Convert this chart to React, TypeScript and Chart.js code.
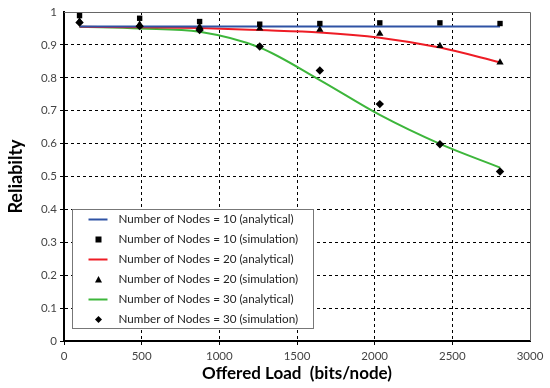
import React, { useEffect, useRef } from 'react';
import { Chart, registerables } from 'chart.js';

Chart.register(...registerables);

const offeredLoad = [100, 487, 873, 1260, 1647, 2033, 2420, 2807];
const n10Analytical = [0.956, 0.956, 0.956, 0.956, 0.956, 0.956, 0.956, 0.956];
const n10Simulation = [0.989, 0.981, 0.971, 0.963, 0.965, 0.967, 0.967, 0.965];
const n20Analytical = [0.955, 0.954, 0.951, 0.945, 0.938, 0.922, 0.892, 0.847];
const n20Simulation = [0.972, 0.962, 0.955, 0.95, 0.946, 0.934, 0.897, 0.847];
const n30Analytical = [0.955, 0.95, 0.94, 0.892, 0.793, 0.687, 0.599, 0.527];
const n30Simulation = [0.968, 0.957, 0.945, 0.895, 0.822, 0.72, 0.598, 0.515];

const seriesLabels = [
  'Number of Nodes = 10 (analytical)',
  'Number of Nodes = 10 (simulation)',
  'Number of Nodes = 20 (analytical)',
  'Number of Nodes = 20 (simulation)',
  'Number of Nodes = 30 (analytical)',
  'Number of Nodes = 30 (simulation)',
];
const yTickLabels = ['0', '0.1', '0.2', '0.3', '0.4', '0.5', '0.6', '0.7', '0.8', '0.9', '1'];
const xTickLabels = ['0', '500', '1000', '1500', '2000', '2500', '3000'];

const FONT = 'Lato';
const BLUE = '#2f52a4';
const RED = '#ee1c25';
const GREEN = '#3db63b';

const toPts = (ys: number[]) => ys.map((y, i) => ({ x: offeredLoad[i], y }));

const framePlugin = {
  id: 'frame',
  beforeDatasetsDraw(chart: any) {
    const { ctx, chartArea } = chart;
    ctx.save();
    ctx.strokeStyle = '#666';
    ctx.lineWidth = 1;
    ctx.beginPath();
    ctx.moveTo(chartArea.left, chartArea.top + 0.5);
    ctx.lineTo(chartArea.right + 0.5, chartArea.top + 0.5);
    ctx.lineTo(chartArea.right + 0.5, chartArea.bottom);
    ctx.stroke();
    ctx.restore();
  },
};

const legendPlugin = {
  id: 'boxLegend',
  afterDraw(chart: any) {
    const { ctx, chartArea } = chart;
    const w = 241;
    const h = 119;
    const left = chartArea.left + 8.5;
    const top = chartArea.bottom - 13 - h + 0.5;
    ctx.save();
    ctx.fillStyle = '#ffffff';
    ctx.fillRect(left, top, w, h);
    ctx.strokeStyle = '#777';
    ctx.lineWidth = 1;
    ctx.strokeRect(left, top, w, h);
    ctx.font = `11.7px ${FONT}`;
    ctx.textBaseline = 'middle';
    chart.data.datasets.forEach((ds: any, i: number) => {
      const cy = top + 10 + i * 20;
      const sx = left + 26;
      if (ds.showLine !== false) {
        ctx.strokeStyle = ds.borderColor;
        ctx.lineWidth = 2;
        ctx.beginPath();
        ctx.moveTo(sx - 10, cy);
        ctx.lineTo(sx + 9, cy);
        ctx.stroke();
      } else {
        ctx.fillStyle = '#000';
        ctx.beginPath();
        if (ds.pointStyle === 'rect') {
          ctx.rect(sx - 3, cy - 3, 6, 6);
        } else if (ds.pointStyle === 'triangle') {
          ctx.moveTo(sx, cy - 3.5);
          ctx.lineTo(sx + 3.5, cy + 3);
          ctx.lineTo(sx - 3.5, cy + 3);
          ctx.closePath();
        } else {
          ctx.moveTo(sx, cy - 3.5);
          ctx.lineTo(sx + 3.5, cy);
          ctx.lineTo(sx, cy + 3.5);
          ctx.lineTo(sx - 3.5, cy);
          ctx.closePath();
        }
        ctx.fill();
      }
      ctx.fillStyle = '#222';
      ctx.fillText(ds.label, left + 46, cy);
    });
    ctx.restore();
  },
};

export default function App() {
  const ref = useRef<HTMLCanvasElement>(null);
  useEffect(() => {
    document.body.style.margin = '0';
    const lineDs = (label: string, data: number[], color: string) => ({
      label,
      data: toPts(data),
      borderColor: color,
      backgroundColor: color,
      borderWidth: 2,
      pointRadius: 0,
      showLine: true,
      cubicInterpolationMode: 'monotone' as const,
      order: 2,
    });
    const simDs = (label: string, data: number[], style: string, r: number) => ({
      label,
      data: toPts(data),
      borderColor: '#000',
      backgroundColor: '#000',
      borderWidth: 0,
      pointStyle: style,
      pointRadius: r,
      showLine: false,
      order: 1,
    });
    const chart = new Chart(ref.current!, {
      type: 'line',
      data: {
        datasets: [
          lineDs(seriesLabels[0], n10Analytical, BLUE),
          simDs(seriesLabels[1], n10Simulation, 'rect', 3.8),
          lineDs(seriesLabels[2], n20Analytical, RED),
          simDs(seriesLabels[3], n20Simulation, 'triangle', 4.2),
          lineDs(seriesLabels[4], n30Analytical, GREEN),
          simDs(seriesLabels[5], n30Simulation, 'rectRot', 4.2),
        ] as any,
      },
      options: {
        animation: false,
        responsive: false,
        layout: { padding: { top: 12, right: 20, left: 0, bottom: 0 } },
        plugins: { legend: { display: false }, tooltip: { enabled: false } },
        scales: {
          x: {
            type: 'linear',
            min: 0,
            max: 3000,
            afterFit: (s: any) => { s.height = 47; },
            afterBuildTicks: (s: any) => {
              s.ticks = xTickLabels.map((t) => ({ value: Number(t) }));
            },
            ticks: {
              callback: (_v: any, i: number) => xTickLabels[i],
              color: '#444',
              font: { family: FONT, size: 11.5 },
              padding: 4,
              maxRotation: 0,
            },
            grid: {
              color: (c: any) => (c.tick && (c.tick.value === 3000) ? 'rgba(0,0,0,0)' : '#000'),
              lineWidth: 1,
              tickLength: 4,
            },
            border: { display: true, color: '#000', width: 2, dash: [3, 3] },
            title: {
              display: true,
              text: 'Offered Load  (bits/node)',
              color: '#000',
              font: { family: FONT, size: 17, weight: 'bold' },
              padding: { top: 0, bottom: 4 },
            },
          },
          y: {
            type: 'linear',
            min: 0,
            max: 1,
            afterFit: (s: any) => { s.width = 64; },
            afterBuildTicks: (s: any) => {
              s.ticks = yTickLabels.map((t) => ({ value: Number(t) }));
            },
            ticks: {
              callback: (_v: any, i: number) => yTickLabels[i],
              color: '#444',
              font: { family: FONT, size: 11.5 },
              padding: 3,
            },
            grid: {
              color: (c: any) => (c.tick && (c.tick.value === 1) ? 'rgba(0,0,0,0)' : '#000'),
              lineWidth: 1,
              tickLength: 4,
            },
            border: { display: true, color: '#000', width: 2, dash: [3, 3] },
            title: {
              display: true,
              text: 'Reliabilty',
              color: '#000',
              font: { family: FONT, size: 18, weight: 'bold' },
              padding: { top: 5, bottom: 0 },
            },
          },
        },
      },
      plugins: [framePlugin, legendPlugin],
    });
    return () => chart.destroy();
  }, []);
  return (
    <div style={{ width: 550, height: 388 }}>
      <canvas ref={ref} width={550} height={388} style={{ display: 'block' }} />
    </div>
  );
}
